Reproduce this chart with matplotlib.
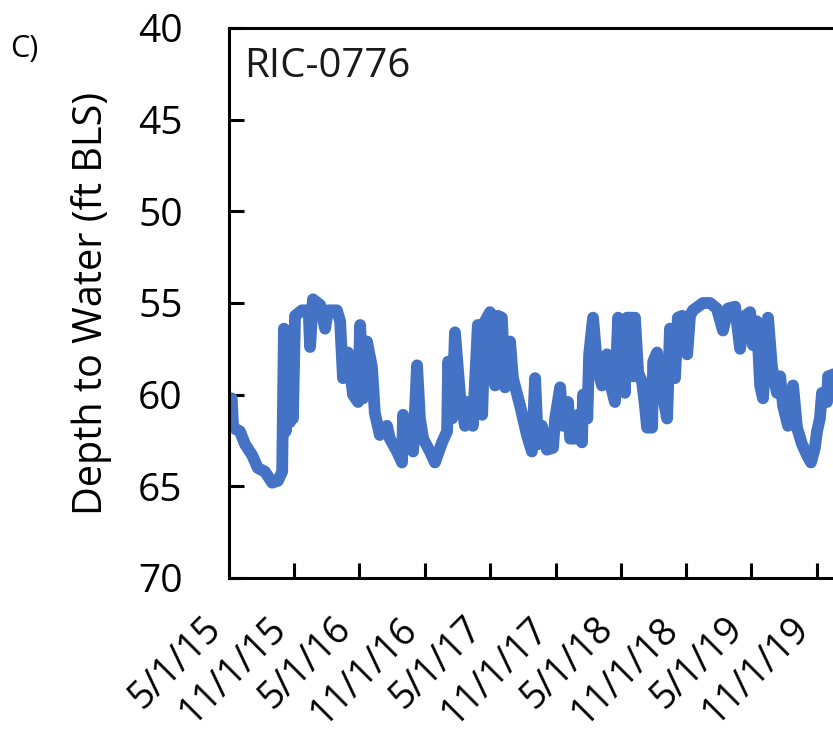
import numpy as np
import pandas as pd
import matplotlib
matplotlib.use("Agg")
import matplotlib.pyplot as plt
import matplotlib.dates as mdates
from matplotlib.ticker import FuncFormatter

plt.rcParams['font.family'] = ['Open Sans', 'DejaVu Sans']

well_name = "RIC-0776"
panel_label = "C)"
y_label = "Depth to Water (ft BLS)"

dates = [
    "2015-05-10", "2015-05-14", "2015-06-02", "2015-06-16", "2015-07-06", "2015-07-22",
    "2015-08-11", "2015-08-31", "2015-09-16", "2015-09-28", "2015-10-03", "2015-10-08",
    "2015-10-13", "2015-10-20", "2015-10-24", "2015-10-28", "2015-11-03", "2015-11-22",
    "2015-12-11", "2015-12-15", "2015-12-23", "2016-01-12", "2016-01-26", "2016-02-03",
    "2016-02-28", "2016-03-08", "2016-03-16", "2016-03-30", "2016-04-13", "2016-04-27",
    "2016-05-03", "2016-05-11", "2016-05-22", "2016-06-05", "2016-06-13", "2016-06-27",
    "2016-07-17", "2016-07-25", "2016-08-14", "2016-08-28", "2016-08-31", "2016-09-14",
    "2016-09-28", "2016-10-09", "2016-10-17", "2016-10-26", "2016-11-14", "2016-11-28",
    "2016-12-18", "2017-01-01", "2017-01-04", "2017-01-15", "2017-01-23", "2017-02-06",
    "2017-02-20", "2017-02-28", "2017-03-14", "2017-03-28", "2017-04-09", "2017-04-17",
    "2017-05-01", "2017-05-15", "2017-05-23", "2017-06-03", "2017-06-12", "2017-06-26",
    "2017-07-04", "2017-07-24", "2017-08-12", "2017-08-26", "2017-09-04", "2017-09-12",
    "2017-09-23", "2017-10-07", "2017-10-24", "2017-10-30", "2017-11-13", "2017-11-21",
    "2017-12-05", "2017-12-11", "2017-12-25", "2018-01-02", "2018-01-13", "2018-01-16",
    "2018-01-28", "2018-02-02", "2018-02-13", "2018-02-24", "2018-03-10", "2018-03-24",
    "2018-04-01", "2018-04-15", "2018-04-24", "2018-05-05", "2018-05-13", "2018-05-19",
    "2018-06-02", "2018-06-06", "2018-06-10", "2018-06-19", "2018-06-30", "2018-07-08",
    "2018-07-14", "2018-07-28", "2018-07-31", "2018-08-11", "2018-08-25", "2018-09-08",
    "2018-09-16", "2018-09-30", "2018-10-08", "2018-10-20", "2018-11-03", "2018-11-11",
    "2018-11-19", "2018-12-17", "2019-01-06", "2019-01-25", "2019-02-11", "2019-02-25",
    "2019-03-17", "2019-03-31", "2019-04-14", "2019-04-28", "2019-05-06", "2019-05-17",
    "2019-05-26", "2019-06-03", "2019-06-17", "2019-06-28", "2019-07-12", "2019-07-21",
    "2019-07-29", "2019-08-12", "2019-08-26", "2019-09-06", "2019-09-20", "2019-10-04",
    "2019-10-15", "2019-10-26", "2019-11-01", "2019-11-09", "2019-11-15", "2019-11-29",
    "2019-12-02", "2019-12-16", "2020-01-10",
]
depth = [
    60.2, 61.8, 62.0, 62.7, 63.3, 64.0,
    64.2, 64.8, 64.7, 64.2, 56.4, 62.0,
    57.0, 61.5, 56.5, 61.3, 55.7, 55.4,
    55.4, 57.4, 54.8, 55.1, 56.4, 55.4,
    55.4, 56.0, 59.1, 57.7, 60.0, 60.4,
    56.2, 60.2, 57.1, 58.5, 61.0, 62.2,
    61.7, 62.4, 63.1, 63.7, 61.1, 62.7,
    63.1, 58.4, 61.3, 62.4, 63.1, 63.7,
    62.6, 62.0, 58.2, 61.3, 56.6, 60.0,
    61.7, 60.4, 61.7, 56.2, 61.1, 56.0,
    55.5, 59.5, 55.7, 55.8, 59.6, 57.1,
    59.1, 60.6, 62.2, 63.1, 59.1, 62.7,
    61.7, 63.0, 62.9, 61.3, 59.6, 61.7,
    60.4, 62.4, 62.4, 61.1, 62.6, 60.0,
    61.3, 57.8, 55.8, 58.4, 59.5, 57.8,
    59.3, 60.4, 55.8, 57.7, 59.9, 55.8,
    55.8, 59.0, 55.8, 58.8, 59.3, 60.6,
    61.8, 61.8, 58.2, 57.7, 59.9, 61.3,
    56.4, 59.1, 55.8, 55.7, 57.8, 55.7,
    55.4, 55.0, 55.0, 55.3, 56.5, 55.3,
    55.2, 57.5, 55.7, 55.5, 57.3, 56.0,
    59.5, 60.2, 55.8, 58.5, 59.9, 59.0,
    60.6, 61.7, 59.5, 61.8, 62.7, 63.3,
    63.7, 62.9, 62.0, 61.3, 59.9, 60.4,
    59.0, 58.9, 58.7,
]
y_ticks = [40, 45, 50, 55, 60, 65, 70]

x = pd.to_datetime(dates)

fig = plt.figure(figsize=(8.33, 7.32), dpi=100)
# axes runs past the right edge, as in the cropped original
ax = fig.add_axes([228.5 / 833, 154 / 732, 649.7 / 833, 550 / 732])

ax.plot(x, depth, color='#4472C4', lw=8.5,
        solid_joinstyle='round', solid_capstyle='round')

ax.set_xlim(pd.Timestamp("2015-05-01"), pd.Timestamp("2020-04-20"))
ax.set_ylim(70, 40)
ax.set_yticks(y_ticks)

ax.xaxis.set_major_locator(mdates.MonthLocator(bymonth=[5, 11], bymonthday=1))
ax.xaxis.set_major_formatter(FuncFormatter(
    lambda v, pos: (lambda d: f"{d.month}/{d.day}/{d.year % 100:02d}")(mdates.num2date(v))))

for s in ax.spines.values():
    s.set_linewidth(2.2)
ax.tick_params(axis='y', direction='in', length=10.5, width=2.2, pad=33, labelsize=28)
ax.tick_params(axis='x', direction='in', length=11, width=2.2, pad=23, labelsize=27)
for lab in ax.get_xticklabels():
    lab.set_rotation(45)
    lab.set_ha('right')

ax.text(0.0237, 0.911, well_name, transform=ax.transAxes,
        fontsize=29, ha='left', va='baseline', color='#1a1a1a')
fig.text(10 / 833, 1 - 57 / 732, panel_label, fontsize=22, ha='left', va='baseline')
fig.text(92 / 833, 1 - 303 / 732, y_label, rotation=90, fontsize=28.5,
         ha='center', va='center')

fig.savefig("out.png", dpi=100)
